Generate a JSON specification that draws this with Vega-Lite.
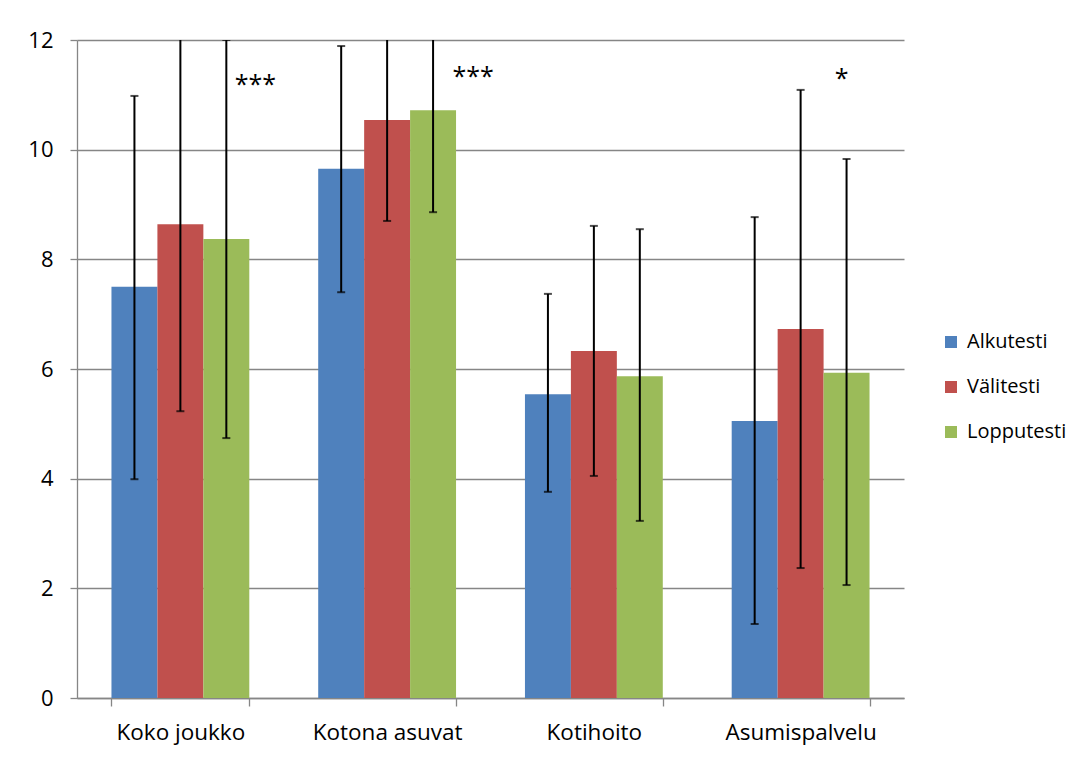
{
  "$schema": "https://vega.github.io/schema/vega-lite/v6.json",
  "width": 827,
  "height": 658,
  "autosize": {"type": "none"},
  "padding": {"left": 77, "top": 40, "right": 182, "bottom": 59},
  "background": "white",
  "config": {
    "view": {"stroke": null},
    "font": "Open Sans",
    "axis": {
      "labelFont": "Open Sans",
      "labelColor": "#000000",
      "domainColor": "#868686",
      "domainWidth": 1.3,
      "tickColor": "#868686",
      "tickWidth": 1.3,
      "gridColor": "#868686",
      "gridWidth": 1.3,
      "gridOpacity": 1,
      "title": null
    }
  },
  "datasets": {
    "scores": [
      {"group": "Koko joukko", "test": "Alkutesti", "mean": 7.50, "lo": 3.99, "hi": 10.98},
      {"group": "Koko joukko", "test": "Välitesti", "mean": 8.64, "lo": 5.23, "hi": 12.05},
      {"group": "Koko joukko", "test": "Lopputesti", "mean": 8.37, "lo": 4.74, "hi": 12.0},
      {"group": "Kotona asuvat", "test": "Alkutesti", "mean": 9.65, "lo": 7.40, "hi": 11.89},
      {"group": "Kotona asuvat", "test": "Välitesti", "mean": 10.54, "lo": 8.70, "hi": 12.38},
      {"group": "Kotona asuvat", "test": "Lopputesti", "mean": 10.72, "lo": 8.86, "hi": 12.58},
      {"group": "Kotihoito", "test": "Alkutesti", "mean": 5.54, "lo": 3.76, "hi": 7.37},
      {"group": "Kotihoito", "test": "Välitesti", "mean": 6.33, "lo": 4.05, "hi": 8.61},
      {"group": "Kotihoito", "test": "Lopputesti", "mean": 5.87, "lo": 3.23, "hi": 8.55},
      {"group": "Asumispalvelu", "test": "Alkutesti", "mean": 5.05, "lo": 1.35, "hi": 8.77},
      {"group": "Asumispalvelu", "test": "Välitesti", "mean": 6.73, "lo": 2.37, "hi": 11.09},
      {"group": "Asumispalvelu", "test": "Lopputesti", "mean": 5.93, "lo": 2.06, "hi": 9.83}
    ],
    "significance": [
      {"group": "Koko joukko", "test": "Lopputesti", "stars": "***", "level": 11.2},
      {"group": "Kotona asuvat", "test": "Lopputesti", "stars": "***", "level": 11.35},
      {"group": "Asumispalvelu", "test": "Lopputesti", "stars": "*", "level": 11.3}
    ]
  },
  "encoding": {
    "x": {
      "field": "group",
      "type": "nominal",
      "sort": ["Koko joukko", "Kotona asuvat", "Kotihoito", "Asumispalvelu"],
      "scale": {"paddingInner": 0.3333, "paddingOuter": 0.1667},
      "axis": {"labelAngle": 0, "tickBand": "extent", "tickSize": 8, "labelPadding": 15, "labelFontSize": 22.5}
    },
    "xOffset": {
      "field": "test",
      "type": "nominal",
      "sort": ["Alkutesti", "Välitesti", "Lopputesti"],
      "scale": {"paddingInner": 0, "paddingOuter": 0}
    }
  },
  "layer": [
    {
      "data": {"name": "scores"},
      "mark": {"type": "bar"},
      "encoding": {
        "y": {
          "field": "mean",
          "type": "quantitative",
          "scale": {"domain": [0, 12], "nice": false},
          "axis": {"values": [0, 2, 4, 6, 8, 10, 12], "format": "d", "tickSize": 7, "labelPadding": 17, "labelFontSize": 22, "grid": true}
        },
        "color": {
          "field": "test",
          "type": "nominal",
          "sort": ["Alkutesti", "Välitesti", "Lopputesti"],
          "scale": {"domain": ["Alkutesti", "Välitesti", "Lopputesti"], "range": ["#4F81BD", "#C0504D", "#9BBB59"]},
          "legend": {
            "title": null,
            "orient": "none",
            "legendX": 864,
            "legendY": 292,
            "symbolType": "square",
            "symbolSize": 144,
            "symbolStrokeWidth": 0,
            "labelFontSize": 20,
            "labelFont": "Open Sans",
            "labelColor": "#000000",
            "labelOffset": 6,
            "rowPadding": 25
          }
        }
      }
    },
    {
      "data": {"name": "scores"},
      "mark": {"type": "rule", "color": "#000000", "strokeWidth": 2, "clip": true},
      "encoding": {
        "y": {"field": "lo", "type": "quantitative"},
        "y2": {"field": "hi"}
      }
    },
    {
      "data": {"name": "scores"},
      "mark": {"type": "tick", "orient": "horizontal", "color": "#000000", "size": 8, "thickness": 2, "clip": true},
      "encoding": {"y": {"field": "lo", "type": "quantitative"}}
    },
    {
      "data": {"name": "scores"},
      "mark": {"type": "tick", "orient": "horizontal", "color": "#000000", "size": 8, "thickness": 2, "clip": true},
      "encoding": {"y": {"field": "hi", "type": "quantitative"}}
    },
    {
      "data": {"name": "significance"},
      "transform": [{"filter": "datum.group === 'Koko joukko'"}],
      "mark": {"type": "text", "fontSize": 25, "dx": 29, "dy": 1, "color": "#000000", "font": "Open Sans"},
      "encoding": {"y": {"field": "level", "type": "quantitative"}, "text": {"field": "stars"}}
    },
    {
      "data": {"name": "significance"},
      "transform": [{"filter": "datum.group === 'Kotona asuvat'"}],
      "mark": {"type": "text", "fontSize": 25, "dx": 40, "dy": 1, "color": "#000000", "font": "Open Sans"},
      "encoding": {"y": {"field": "level", "type": "quantitative"}, "text": {"field": "stars"}}
    },
    {
      "data": {"name": "significance"},
      "transform": [{"filter": "datum.group === 'Asumispalvelu'"}],
      "mark": {"type": "text", "fontSize": 25, "dx": -5, "dy": 1, "color": "#000000", "font": "Open Sans"},
      "encoding": {"y": {"field": "level", "type": "quantitative"}, "text": {"field": "stars"}}
    }
  ]
}
